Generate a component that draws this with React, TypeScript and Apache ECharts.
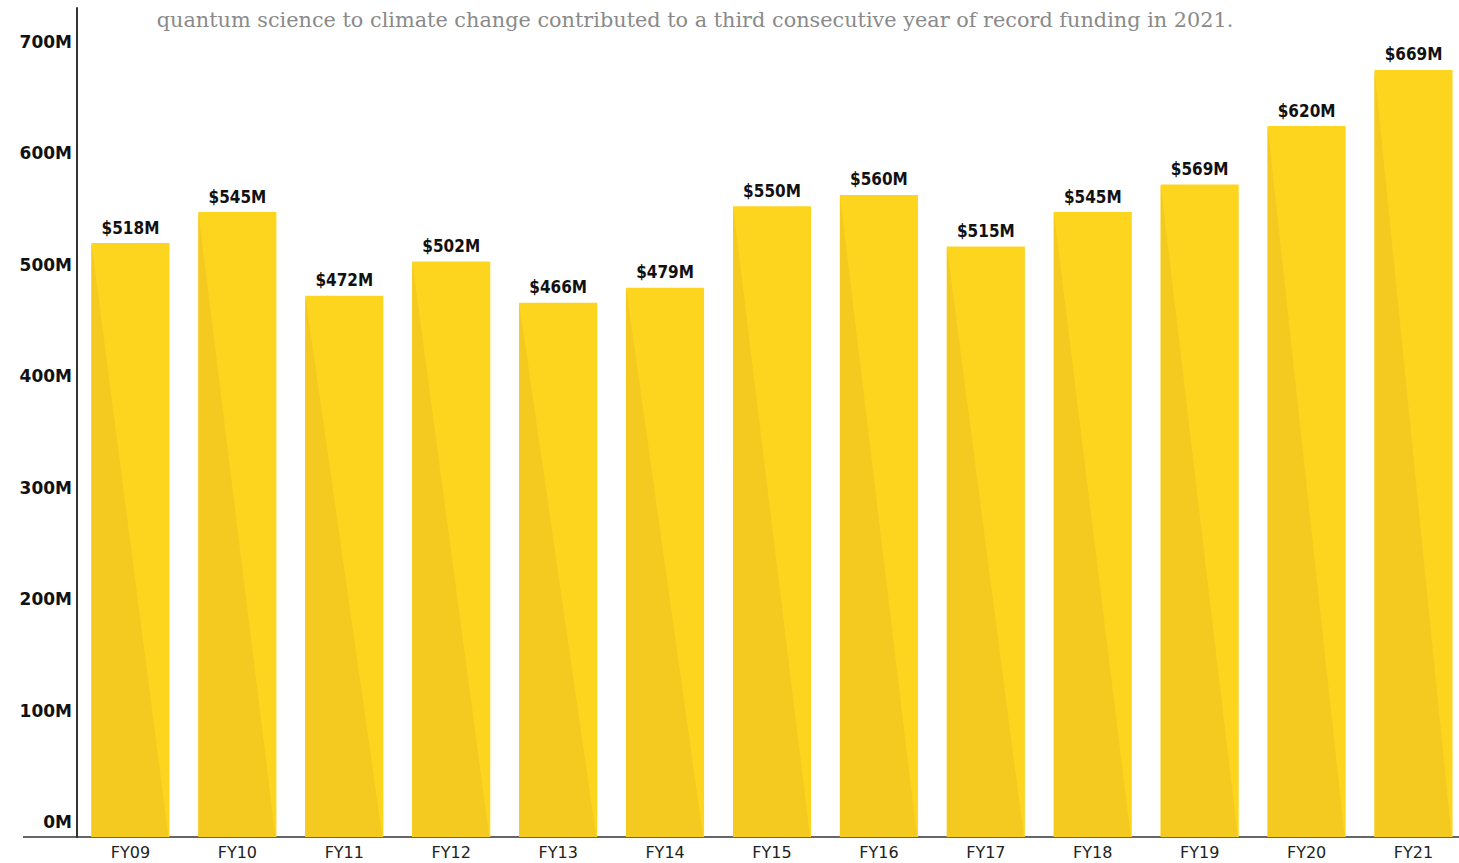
import React, { useEffect, useRef } from "react";
import * as echarts from "echarts";

const categories = ["FY09", "FY10", "FY11", "FY12", "FY13", "FY14", "FY15", "FY16", "FY17", "FY18", "FY19", "FY20", "FY21"];
const values = [518, 545, 472, 502, 466, 479, 550, 560, 515, 545, 569, 620, 669];
const tickValues = [0, 100, 200, 300, 400, 500, 600, 700];
const subtitle = "quantum science to climate change contributed to a third consecutive year of record funding in 2021.";

const LIGHT = "#FDD41E";
const DARK = "#F4C920";

export default function App() {
  const ref = useRef<HTMLDivElement>(null);
  useEffect(() => {
    const chart = echarts.init(ref.current!, null, { renderer: "svg" });
    chart.setOption({
      animation: false,
      backgroundColor: "#ffffff",
      grid: { left: 77, top: 8, bottom: 26, right: 3 },
      xAxis: {
        type: "category",
        data: categories,
        axisLine: { show: true, lineStyle: { color: "#333", width: 1.5 } },
        axisTick: { show: false },
        axisLabel: {
          margin: 7,
          fontFamily: "'DejaVu Sans', sans-serif",
          fontSize: 16,
          color: "#222",
        },
      },
      yAxis: [
        {
          type: "value",
          min: 0,
          max: 723,
          axisLine: { show: true, lineStyle: { color: "#333", width: 2 } },
          axisTick: { show: false },
          axisLabel: { show: false },
          splitLine: { show: false },
        },
        {
          type: "value",
          position: "left",
          min: -13.46,
          max: 730.5,
          axisLine: { show: false },
          axisTick: { show: false },
          splitLine: { show: false },
          axisLabel: {
            customValues: tickValues,
            margin: 5,
            formatter: (v: number) => `${Math.round(v)}M`,
            fontFamily: "'DejaVu Sans', sans-serif",
            fontWeight: 900,
            fontSize: 17,
            color: "#111",
          },
        },
      ],
      series: [
        {
          type: "bar",
          data: values,
          barWidth: "73%",
          itemStyle: { color: LIGHT },
          label: {
            show: true,
            position: "top",
            distance: 7,
            formatter: (p: any) => `$${p.value}M`,
            fontFamily: "'DejaVu Sans Condensed', 'Liberation Sans Narrow', sans-serif",
            fontWeight: "bold",
            fontSize: 17,
            color: "#111",
          },
          z: 2,
        },
        {
          type: "custom",
          data: values.map((v, i) => [i, v]),
          z: 3,
          silent: true,
          renderItem: (params: any, api: any) => {
            const idx = api.value(0);
            const v = api.value(1);
            const top = api.coord([idx, v]);
            const bottom = api.coord([idx, 0]);
            const w = api.size([1, 0])[0] * 0.73;
            const l = top[0] - w / 2;
            const r = top[0] + w / 2;
            return {
              type: "polygon",
              shape: { points: [[l, top[1]], [l, bottom[1]], [r - 1, bottom[1]]] },
              style: { fill: DARK },
            };
          },
        },
      ],
      graphic: [
        {
          type: "line",
          shape: { x1: 23, y1: 837, x2: 78, y2: 837 },
          style: { stroke: "#333", lineWidth: 1.5 },
        },
        {
          type: "text",
          x: 695,
          y: 20,
          style: {
            text: subtitle,
            textAlign: "center",
            textVerticalAlign: "middle",
            fontFamily: "'DejaVu Serif', serif",
            fontSize: 20.8,
            fill: "#8a8a8a",
          },
        },
      ],
    });
    return () => chart.dispose();
  }, []);
  return (
    <div style={{ position: "fixed", left: 0, top: 0, width: 1459, height: 863, overflow: "hidden" }}>
      <div ref={ref} style={{ position: "absolute", left: 0, top: 0, width: 1470, height: 863 }} />
    </div>
  );
}
